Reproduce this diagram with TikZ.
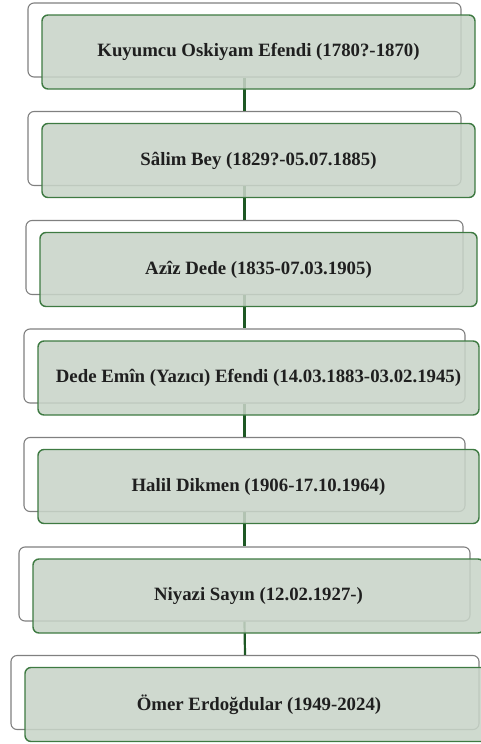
\documentclass[tikz,border=0pt]{standalone}
\usepackage{fontspec}
\setmainfont{Liberation Serif}
\definecolor{boxgray}{RGB}{128,128,128}
\definecolor{boxgreen}{RGB}{62,122,66}
\definecolor{boxfill}{RGB}{200,212,200}
\definecolor{linkgreen}{RGB}{30,88,36}
\begin{document}
\begin{tikzpicture}[x=1pt, y=-1pt,
		backbox/.style={draw=boxgray, line width=1.1pt, fill=white, rounded corners=6pt, minimum height=74pt, inner sep=0pt},
		frontbox/.style={draw=boxgreen, line width=1.4pt, fill=boxfill, fill opacity=0.87, text opacity=1, rounded corners=6pt, minimum height=74pt, inner sep=0pt, xshift=14pt, yshift=-12pt, font=\fontsize{18.8}{21}\selectfont\bfseries, text=black!88},
		link/.style={draw=linkgreen, line width=2.2pt}]
		\useasboundingbox (0,0) rectangle (480,744);
		
		% Back boxes
		\node[backbox, minimum width=433pt] (b1) at (244.5,40) {};
		\node[backbox, minimum width=433pt] (b2) at (244.5,148.5) {};
		\node[backbox, minimum width=437pt] (b3) at (244.5,257.5) {};
		\node[backbox, minimum width=441pt] (b4) at (244.5,366) {};
		\node[backbox, minimum width=441pt] (b5) at (244.5,474.5) {};
		\node[backbox, minimum width=451pt] (b6) at (244.5,584) {};
		\node[backbox, minimum width=468pt] (b7) at (245,692.5) {};
		
		% Links
		\draw[link] (b1.south) -- (b2.north);
		\draw[link] (b2.south) -- (b3.north);
		\draw[link] (b3.south) -- (b4.north);
		\draw[link] (b4.south) -- (b5.north);
		\draw[link] (b5.south) -- (b6.north);
		\draw[link] (b6.south) -- (b7.north);
		
		% Front boxes
		\node[frontbox, minimum width=433pt] (f1) at (b1) {Kuyumcu Oskiyam Efendi (1780?-1870)};
		\node[frontbox, minimum width=433pt] (f2) at (b2) {Sâlim Bey (1829?-05.07.1885)};
		\node[frontbox, minimum width=437pt] (f3) at (b3) {Azîz Dede (1835-07.03.1905)};
		\node[frontbox, minimum width=441pt] (f4) at (b4) {Dede Emîn (Yazıcı) Efendi (14.03.1883-03.02.1945)};
		\node[frontbox, minimum width=441pt] (f5) at (b5) {Halil Dikmen (1906-17.10.1964)};
		\node[frontbox, minimum width=451pt] (f6) at (b6) {Niyazi Sayın (12.02.1927-)};
		\node[frontbox, minimum width=468pt] (f7) at (b7) {Ömer Erdoğdular (1949-2024)};
	\end{tikzpicture}
\end{document}
